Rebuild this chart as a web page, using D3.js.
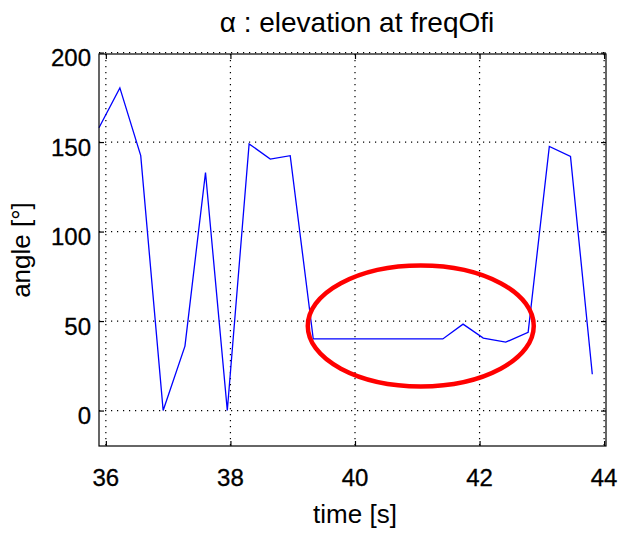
<!DOCTYPE html>
<html><head><meta charset="utf-8">
<script src="https://cdn.jsdelivr.net/npm/d3@7"></script>
<style>body{margin:0;background:#fff}svg{display:block}text{font-family:"Liberation Sans",Arial,Helvetica,sans-serif;fill:#000}</style>
</head><body>
<script>
const times = [35.89,36.225,36.56,36.92,37.27,37.60,37.95,38.30,38.64,38.96,39.33,39.67,40.01,40.35,40.69,41.05,41.41,41.735,42.06,42.42,42.78,43.12,43.46,43.81];
const angles = [158,180.3,142.4,0,36,133,0,149,140.5,142.4,40,40,40,40,40,40,40,48.3,40.5,38.2,43.7,147.6,142,20.3];
const xTicks = [36,38,40,42,44];
const yTicks = [0,50,100,150,200];
const xDomain = [35.89,44.03];
const yDomain = [-19.8,199.2];
const highlight = {cx:41.056, cy:47.27, rx:1.814, ry:33.76};
const title = "\u03B1 : elevation at freqOfi";
const xLabel = "time [s]";
const yLabel = "angle [\u00B0]";

const W=619,H=533;
const L=99,R=606,T=54,B=446;
const svg=d3.select("body").append("svg").attr("width",W).attr("height",H);
const x=d3.scaleLinear().domain(xDomain).range([L,R]);
const y=d3.scaleLinear().domain(yDomain).range([B,T]);

// grid
const g=svg.append("g");
g.selectAll(".vg").data(xTicks).join("line").attr("x1",d=>x(d)).attr("x2",d=>x(d)).attr("y1",T).attr("y2",B)
 .attr("stroke","#000").attr("stroke-width",1.2).attr("stroke-dasharray","1.2,4.8");
g.selectAll(".hg").data(yTicks).join("line").attr("y1",d=>y(d)).attr("y2",d=>y(d)).attr("x1",L).attr("x2",R)
 .attr("stroke","#000").attr("stroke-width",1.2).attr("stroke-dasharray","1.2,4.8");

// line
const line=d3.line().x((d,i)=>x(times[i])).y(d=>y(d));
svg.append("path").datum(angles).attr("d",line).attr("fill","none").attr("stroke","#0000ff").attr("stroke-width",1.3);

// box
svg.append("rect").attr("x",L).attr("y",T).attr("width",R-L).attr("height",B-T).attr("fill","none").attr("stroke","#000").attr("stroke-width",1.2);

// axes with inward ticks
const ax=svg.append("g").attr("transform",`translate(0,${B})`).call(d3.axisBottom(x).tickValues(xTicks).tickSize(-5).tickFormat(""));
const axT=svg.append("g").attr("transform",`translate(0,${T})`).call(d3.axisTop(x).tickValues(xTicks).tickSize(-5).tickFormat(""));
const ay=svg.append("g").attr("transform",`translate(${L},0)`).call(d3.axisLeft(y).tickValues(yTicks).tickSize(-5).tickFormat(""));
const ayR=svg.append("g").attr("transform",`translate(${R},0)`).call(d3.axisRight(y).tickValues(yTicks).tickSize(-5).tickFormat(""));
[ax,axT,ay,ayR].forEach(a=>{a.select(".domain").remove();a.selectAll("line").attr("stroke","#000").attr("stroke-width",1.2);});

// tick labels
svg.selectAll(".xl").data(xTicks).join("text").attr("x",d=>x(d)).attr("y",486).attr("text-anchor","middle")
 .attr("font-size",24).attr("stroke","#000").attr("stroke-width",0.3).text(d=>d);
svg.selectAll(".yl").data(yTicks).join("text").attr("x",91).attr("y",d=>y(d)+13.5).attr("text-anchor","end")
 .attr("font-size",24).attr("stroke","#000").attr("stroke-width",0.3).text(d=>d);

// labels
svg.append("text").attr("x",357).attr("y",32).attr("text-anchor","middle").attr("font-size",28).text(title);
svg.append("text").attr("x",355).attr("y",523).attr("text-anchor","middle").attr("font-size",26).text(xLabel);
svg.append("text").attr("transform",`translate(30,${(T+B)/2}) rotate(-90)`).attr("text-anchor","middle").attr("font-size",26).text(yLabel);

// highlight ellipse
svg.append("ellipse").attr("cx",x(highlight.cx)).attr("cy",y(highlight.cy))
 .attr("rx",x(highlight.cx+highlight.rx)-x(highlight.cx)).attr("ry",y(highlight.cy)-y(highlight.cy+highlight.ry))
 .attr("fill","none").attr("stroke","#ff0000").attr("stroke-width",4.5);
</script>
</body></html>
